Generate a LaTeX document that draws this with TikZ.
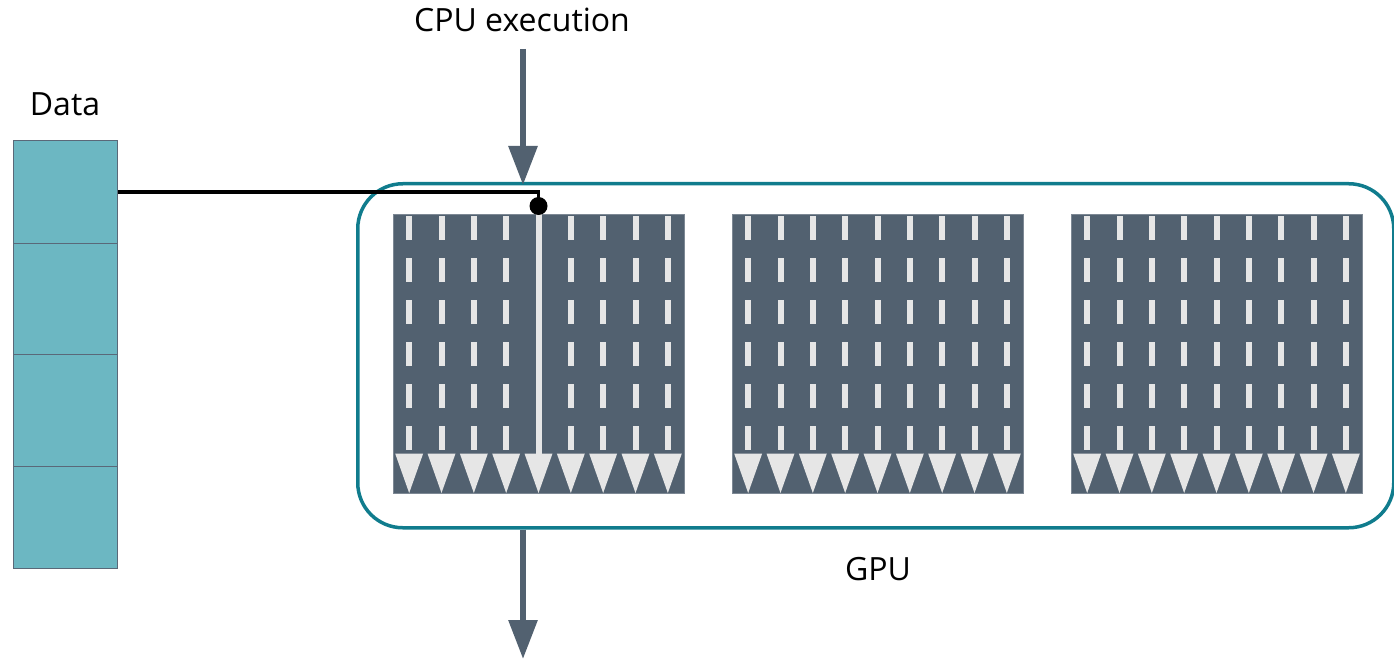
\documentclass[tikz,border=0pt]{standalone}
\usepackage{fontspec}
\setmainfont{Open Sans}
\usetikzlibrary{arrows.meta}
\definecolor{datafill}{RGB}{108,183,194}
\definecolor{cellborder}{RGB}{90,104,120}
\definecolor{gputeal}{RGB}{16,124,141}
\definecolor{blockcol}{RGB}{82,97,112}
\definecolor{lightgr}{RGB}{230,230,230}
\begin{document}
\begin{tikzpicture}[x=1pt,y=-1pt,
  lab/.style={font=\fontsize{32}{38}\selectfont, inner sep=0pt, anchor=base, text=black},
  cell/.style={draw=cellborder, line width=1.2pt, fill=datafill, minimum width=104pt, inner sep=0pt, anchor=north west},
  gpubox/.style={draw=gputeal, line width=3.5pt, rounded corners=45pt, minimum width=1036pt, minimum height=344pt, inner sep=0pt, anchor=north west},
  blockbox/.style={fill=blockcol, draw=blockcol!75!white, line width=0.6pt, minimum width=291pt, minimum height=279pt, inner sep=0pt, anchor=north west},
  bigarrow/.style={draw=blockcol, line width=6pt, -{Triangle[length=39pt,width=28pt]}},
  dashbar/.style={fill=lightgr},
  tri/.style={fill=lightgr},
  link/.style={draw=black, line width=3.5pt},
  dotnode/.style={circle, fill=black, minimum size=18pt, inner sep=0pt},
  thread/.style={draw=lightgr, line width=6pt}
]
\useasboundingbox (0,0) rectangle (1394,660);

% labels
\node[lab] (cpu) at (522,32) {CPU execution};
\node[lab] (datalab) at (65,116) {Data};
\node[lab] (gpulab) at (878,580) {GPU};

% data column
\node[cell, minimum height=103pt] (d1) at (13,140) {};
\node[cell, minimum height=111pt] (d2) at (13,243) {};
\node[cell, minimum height=112pt] (d3) at (13,354) {};
\node[cell, minimum height=102pt] (d4) at (13,466) {};

% GPU
\node[gpubox] (gpu) at (356,182) {};

% blocks
\foreach \name/\L in {b1/393, b2/732, b3/1071}{
  \node[blockbox] (\name) at (\L,214) {};
  \foreach \i in {0,...,8}{
    \pgfmathsetmacro{\cx}{\L+(\i+0.5)*291/9}
    \pgfmathtruncatemacro{\skipcol}{(\L==393 && \i==4) ? 1 : 0}
    \ifnum\skipcol=0
      \foreach \j in {0,...,5}{
        \fill[dashbar] (\cx-3,216+42*\j) rectangle (\cx+3,240+42*\j);
      }
    \fi
    \fill[tri] (\cx-14,453.5) -- (\cx+14,453.5) -- (\cx,493) -- cycle;
  }
}

% data link into first block
\coordinate (dotc) at (538.5,206);
\coordinate (threadend) at (538.5,456);
\draw[thread] (dotc) -- (threadend);
\draw[link] (d1.east) -| (dotc);
\node[dotnode] (dot) at (dotc) {};

% CPU execution arrows
\coordinate (cpustart) at (523,49);
\coordinate (cpuin) at (523,185);
\coordinate (cpuout) at (523,659);
\draw[bigarrow] (cpustart) -- (cpuin);
\draw[bigarrow] (gpu.south -| cpuin) -- (cpuout);
\end{tikzpicture}
\end{document}
